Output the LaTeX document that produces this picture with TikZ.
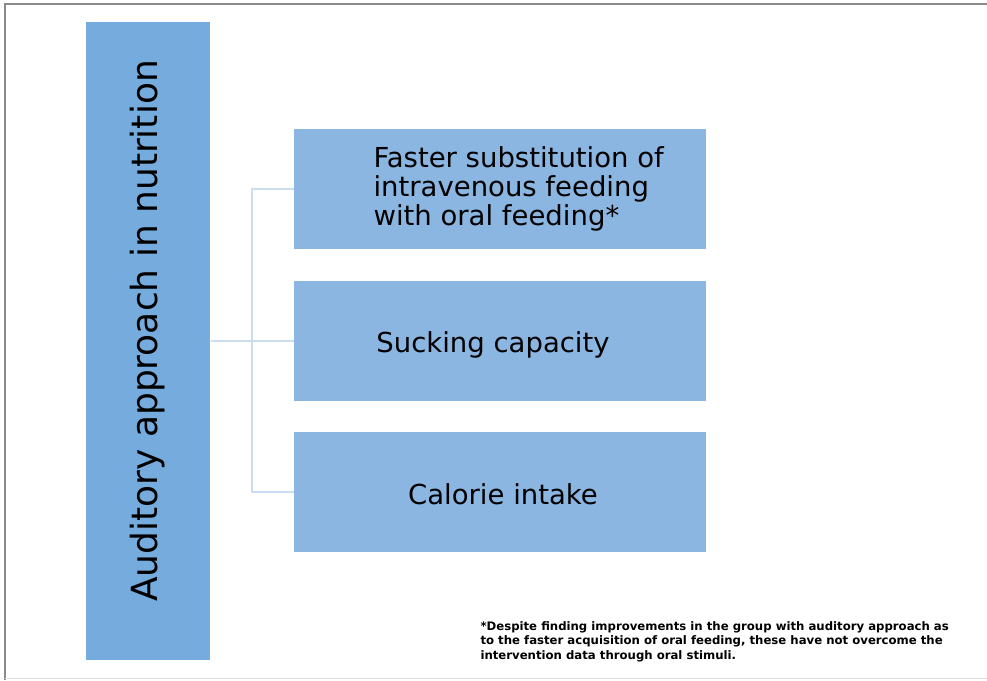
\documentclass[tikz,border=0pt]{standalone}
\usepackage{fontspec}
\setmainfont{DejaVu Sans}
\begin{document}
\begin{tikzpicture}[x=1pt,y=-1pt,
  barfill/.style={fill=barblue,draw=none},
  itembox/.style={fill=boxblue,draw=none},
  link/.style={draw=linkblue,line width=1.6pt},
  itemtext/.style={font=\fontsize{27.5}{29}\selectfont,text=black}]
\definecolor{barblue}{HTML}{75ACDD}
\definecolor{boxblue}{HTML}{8BB6E1}
\definecolor{linkblue}{HTML}{C9DCF0}
\definecolor{framegray}{HTML}{8A8A8A}
% page frame
\fill[white] (0,0) rectangle (987,680);
\useasboundingbox (0,0) rectangle (987,680);
\draw[framegray,line width=1.6pt] (5,680) -- (5,4) -- (987,4);
\draw[gray!25,line width=1pt] (5,678) -- (987,678);
% main bar
\path[barfill] (86,22) rectangle (210,660);
\node[rotate=90,font=\fontsize{36}{40}\selectfont] (main) at (148,331) {Auditory approach in nutrition};
\coordinate (barR) at (211,341);
% item boxes
\path[itembox] (294,129) rectangle (706,249);
\path[itembox] (294,281) rectangle (706,401);
\path[itembox] (294,432) rectangle (706,552);
\node[itemtext,align=left,anchor=west] (t1) at (370,189) {Faster substitution of\\intravenous feeding\\with oral feeding*};
\node[itemtext] (t2) at (493,345) {Sucking capacity};
\node[itemtext] (t3) at (503,494) {Calorie intake};
\coordinate (b1) at (294,189);
\coordinate (b2) at (294,341);
\coordinate (b3) at (294,492);
\coordinate (fork) at (252,341);
% connectors
\draw[link] (barR) -- (b2);
\draw[link] (b1) -| (fork) |- (b3);
% footnote
\node[anchor=north west,align=left,font=\bfseries\fontsize{11.7}{14.5}\selectfont] (note) at (477,618)
{*Despite finding improvements in the group with auditory approach as\\to the faster acquisition of oral feeding, these have not overcome the\\intervention data through oral stimuli.};
\end{tikzpicture}
\end{document}
